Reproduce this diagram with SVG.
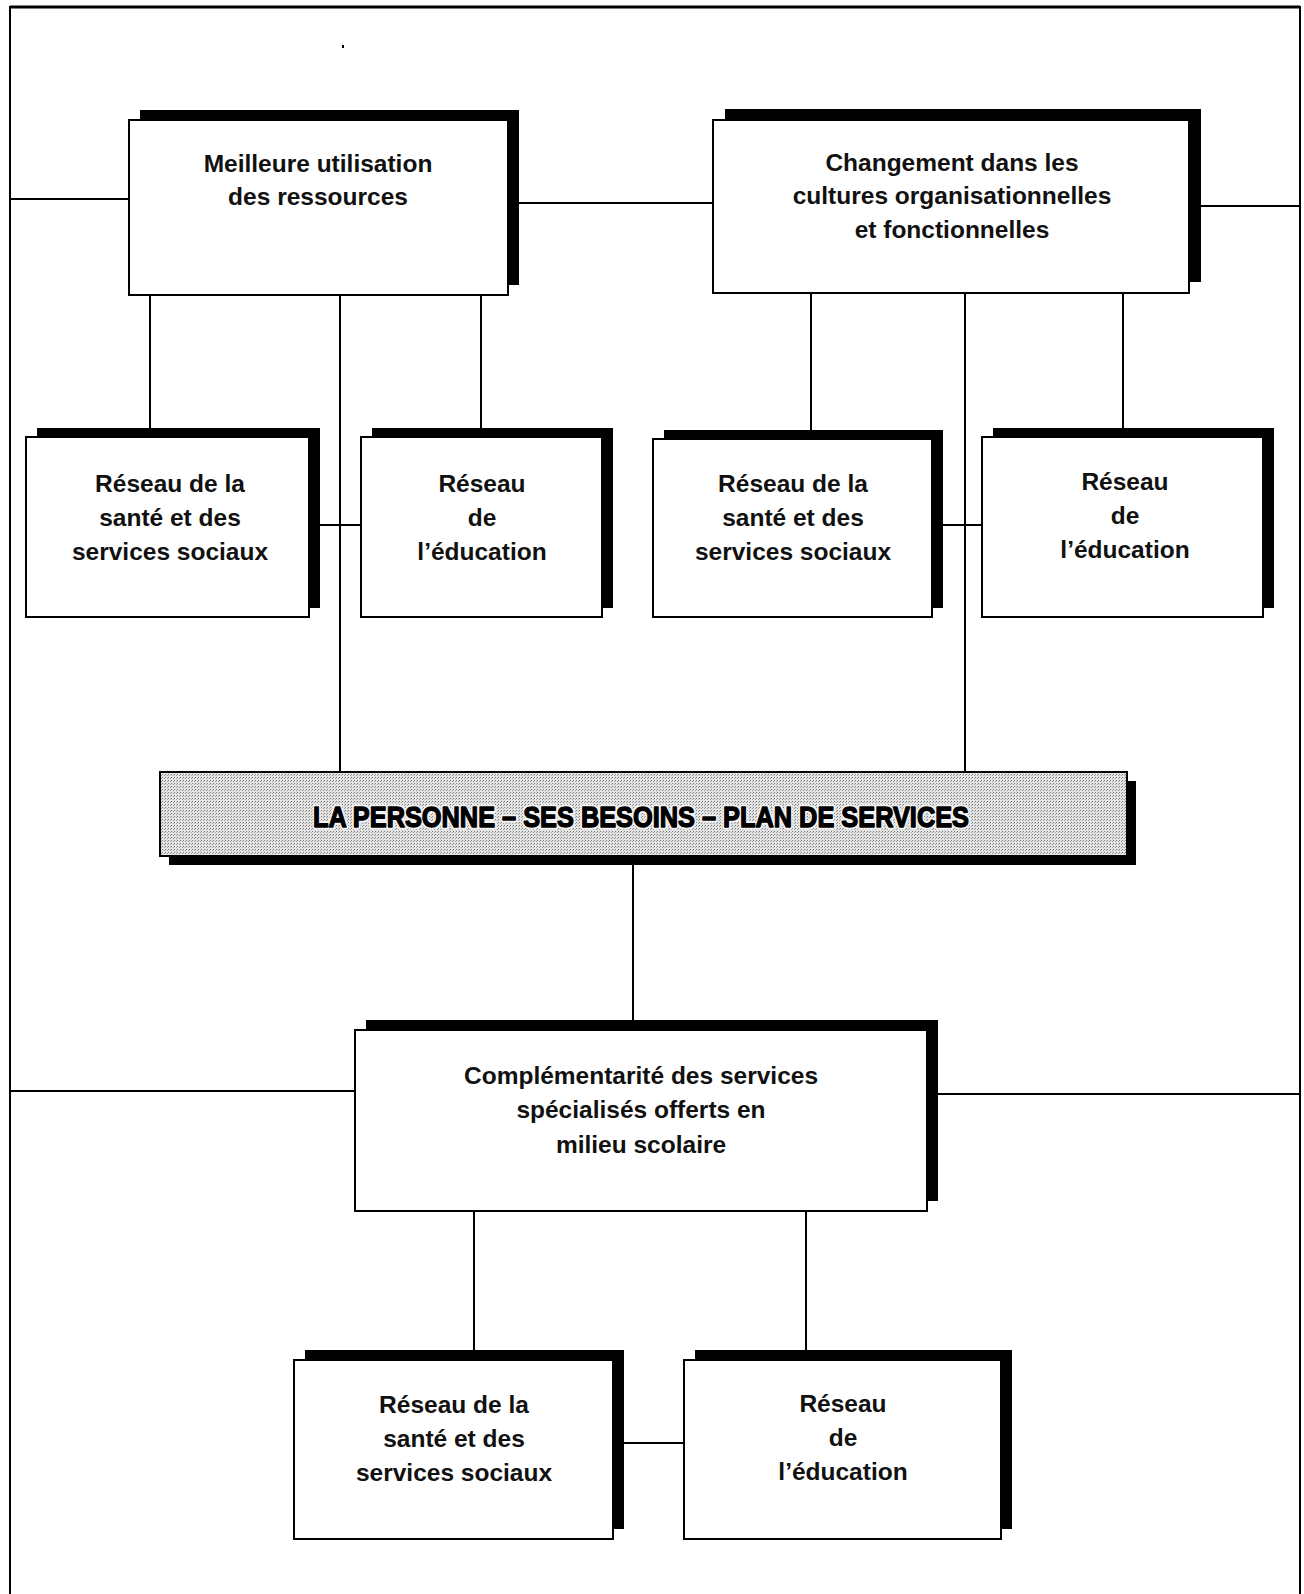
<svg xmlns="http://www.w3.org/2000/svg" width="1304" height="1594" viewBox="0 0 1304 1594">
  <defs>
    <pattern id="halftone" width="3" height="3" patternUnits="userSpaceOnUse">
      <rect width="3" height="3" fill="#e4e4e4"/>
      <rect width="1" height="1" fill="#7a7a7a"/>
      <rect x="2" y="1" width="1" height="1" fill="#9a9a9a"/>
    </pattern>
    <style>
      .shadow { fill: #000; }
      .box { fill: #fff; stroke: #000; stroke-width: 2; }
      .banner { fill: url(#halftone); stroke: #000; stroke-width: 2; }
      .conn { stroke: #000; stroke-width: 2; fill: none; }
      .frame { stroke: #000; stroke-width: 2; fill: none; }
      .lbl { font-family: "Liberation Sans", Arial, Helvetica, sans-serif; font-weight: bold; font-size: 24.5px; text-anchor: middle; fill: #111; }
      .title { font-family: "Liberation Sans", Arial, Helvetica, sans-serif; font-weight: bold; font-size: 30px; text-anchor: middle; }
      .title-halo { fill: #fff; stroke: #f4f4f4; stroke-width: 5; stroke-linejoin: round; }
      .title-ink { fill: #000; stroke: #000; stroke-width: 1.4; stroke-linejoin: round; }
    </style>
  </defs>

  <!-- page frame -->
  <g id="frame">
    <path class="frame" d="M10,1594 V7 H1300 V1594"/>
    <path d="M10,7 H1300" stroke="#000" stroke-width="3"/>
    <rect x="342" y="45" width="2" height="3" fill="#000"/>
  </g>

  <!-- connectors -->
  <g id="connectors">
    <path class="conn" d="M10,199 H129"/>
    <path class="conn" d="M519,203 H713"/>
    <path class="conn" d="M1201,206 H1300"/>
    <path class="conn" d="M150,295 V428"/>
    <path class="conn" d="M340,295 V772"/>
    <path class="conn" d="M481,295 V428"/>
    <path class="conn" d="M811,293 V430"/>
    <path class="conn" d="M965,293 V772"/>
    <path class="conn" d="M1123,293 V428"/>
    <path class="conn" d="M320,525 H361"/>
    <path class="conn" d="M943,525 H982"/>
    <path class="conn" d="M633,865 V1020"/>
    <path class="conn" d="M10,1091 H355"/>
    <path class="conn" d="M938,1094 H1300"/>
    <path class="conn" d="M474,1211 V1350"/>
    <path class="conn" d="M806,1211 V1350"/>
    <path class="conn" d="M624,1443 H684"/>
  </g>

  <g id="ressources">
    <rect class="shadow" x="140" y="110" width="379" height="175"/>
    <rect class="box" x="129" y="120" width="379" height="175"/>
    <text class="lbl" x="318" y="172">Meilleure utilisation</text>
    <text class="lbl" x="318" y="205">des ressources</text>
  </g>

  <g id="cultures">
    <rect class="shadow" x="725" y="109" width="476" height="173"/>
    <rect class="box" x="713" y="120" width="476" height="173"/>
    <text class="lbl" x="952" y="171">Changement dans les</text>
    <text class="lbl" x="952" y="204">cultures organisationnelles</text>
    <text class="lbl" x="952" y="238">et fonctionnelles</text>
  </g>

  <g id="sante-1">
    <rect class="shadow" x="37" y="428" width="283" height="180"/>
    <rect class="box" x="26" y="437" width="283" height="180"/>
    <text class="lbl" x="170" y="492">Réseau de la</text>
    <text class="lbl" x="170" y="526">santé et des</text>
    <text class="lbl" x="170" y="560">services sociaux</text>
  </g>

  <g id="education-1">
    <rect class="shadow" x="372" y="428" width="241" height="180"/>
    <rect class="box" x="361" y="437" width="241" height="180"/>
    <text class="lbl" x="482" y="492">Réseau</text>
    <text class="lbl" x="482" y="526">de</text>
    <text class="lbl" x="482" y="560">l’éducation</text>
  </g>

  <g id="sante-2">
    <rect class="shadow" x="664" y="430" width="279" height="178"/>
    <rect class="box" x="653" y="439" width="279" height="178"/>
    <text class="lbl" x="793" y="492">Réseau de la</text>
    <text class="lbl" x="793" y="526">santé et des</text>
    <text class="lbl" x="793" y="560">services sociaux</text>
  </g>

  <g id="education-2">
    <rect class="shadow" x="993" y="428" width="281" height="180"/>
    <rect class="box" x="982" y="437" width="281" height="180"/>
    <text class="lbl" x="1125" y="490">Réseau</text>
    <text class="lbl" x="1125" y="524">de</text>
    <text class="lbl" x="1125" y="558">l’éducation</text>
  </g>

  <g id="personne">
    <rect class="shadow" x="169" y="781" width="967" height="84"/>
    <rect class="banner" x="160" y="772" width="967" height="84"/>
    <!-- cleared halo under the heavy title, then the ink on top -->
    <text class="title title-halo" x="641" y="827" textLength="656" lengthAdjust="spacingAndGlyphs">LA PERSONNE – SES BESOINS – PLAN DE SERVICES</text>
    <text class="title title-ink" x="641" y="827" textLength="656" lengthAdjust="spacingAndGlyphs">LA PERSONNE – SES BESOINS – PLAN DE SERVICES</text>
  </g>

  <g id="complementarite">
    <rect class="shadow" x="366" y="1020" width="572" height="181"/>
    <rect class="box" x="355" y="1030" width="572" height="181"/>
    <text class="lbl" x="641" y="1084">Complémentarité des services</text>
    <text class="lbl" x="641" y="1118">spécialisés offerts en</text>
    <text class="lbl" x="641" y="1153">milieu scolaire</text>
  </g>

  <g id="sante-3">
    <rect class="shadow" x="305" y="1350" width="319" height="179"/>
    <rect class="box" x="294" y="1360" width="319" height="179"/>
    <text class="lbl" x="454" y="1413">Réseau de la</text>
    <text class="lbl" x="454" y="1447">santé et des</text>
    <text class="lbl" x="454" y="1481">services sociaux</text>
  </g>

  <g id="education-3">
    <rect class="shadow" x="695" y="1350" width="317" height="179"/>
    <rect class="box" x="684" y="1360" width="317" height="179"/>
    <text class="lbl" x="843" y="1412">Réseau</text>
    <text class="lbl" x="843" y="1446">de</text>
    <text class="lbl" x="843" y="1480">l’éducation</text>
  </g>
</svg>
